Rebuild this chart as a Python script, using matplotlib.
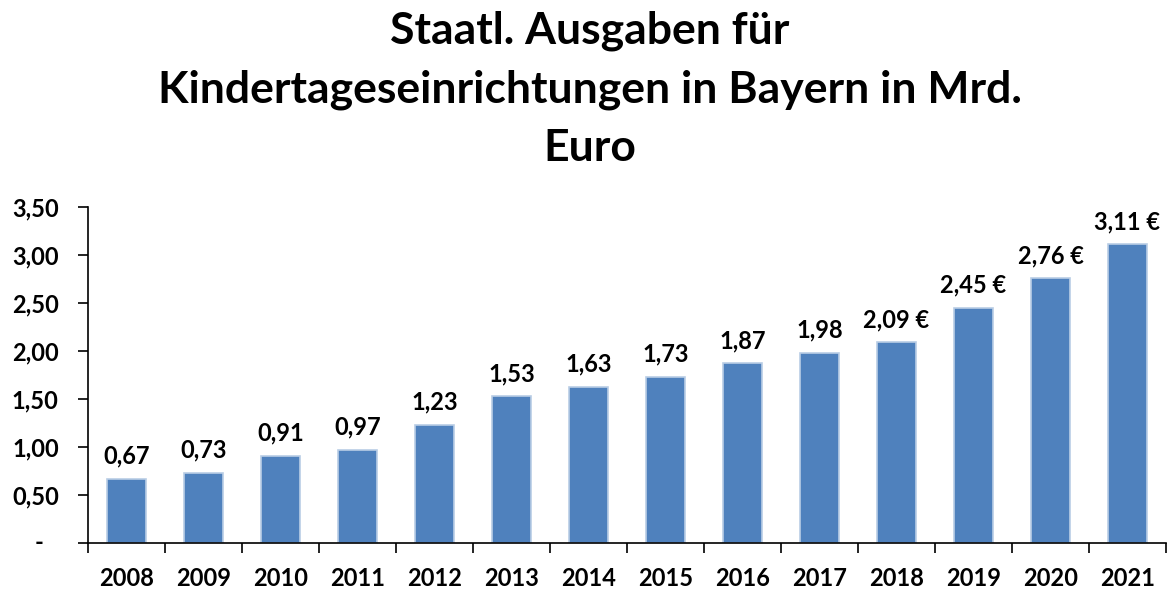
import matplotlib
matplotlib.use("Agg")
import matplotlib.pyplot as plt
import numpy as np

years = ["2008", "2009", "2010", "2011", "2012", "2013", "2014",
         "2015", "2016", "2017", "2018", "2019", "2020", "2021"]
values = [0.67, 0.73, 0.91, 0.97, 1.23, 1.53, 1.63,
          1.73, 1.87, 1.98, 2.09, 2.45, 2.76, 3.11]
labels = ["0,67", "0,73", "0,91", "0,97", "1,23", "1,53", "1,63",
          "1,73", "1,87", "1,98", "2,09 €", "2,45 €", "2,76 €", "3,11 €"]
yticks = [0, 0.5, 1.0, 1.5, 2.0, 2.5, 3.0, 3.5]
ytick_labels = ["-", "0,50", "1,00", "1,50", "2,00", "2,50", "3,00", "3,50"]
title = "Staatl. Ausgaben für\nKindertageseinrichtungen in Bayern in Mrd.\nEuro"

plt.rcParams['font.family'] = ['Lato', 'DejaVu Sans']
plt.rcParams['font.weight'] = 'bold'

fig = plt.figure(figsize=(11.73, 5.89), dpi=100)
ax = fig.add_axes([88/1173, 46/589, 1078/1173, 336/589])

x = np.arange(len(years))
ax.bar(x, values, width=0.5, color="#4F81BD", edgecolor="#B9CDE5", linewidth=1.2)

for xi, v, lab in zip(x, values, labels):
    ax.annotate(lab, (xi, v), xytext=(0, 8), textcoords="offset points",
                ha="center", va="bottom", fontsize=17, fontweight="bold")

ax.set_xlim(-0.5, len(years) - 0.5)
ax.set_ylim(0, 3.5)
ax.set_yticks(yticks)
# zero label ("-") is drawn separately, shifted left like Excel's accounting format
ax.set_yticklabels([""] + ytick_labels[1:], fontsize=17, fontweight="bold")
ax.annotate(ytick_labels[0], xy=(0, yticks[0]), xycoords=ax.get_yaxis_transform(),
            xytext=(-35, 0), textcoords="offset points", ha="center", va="center",
            fontsize=17, fontweight="bold")
ax.set_xticks(x)
ax.set_xticklabels(years, fontsize=17, fontweight="bold")
ax.set_xticks(np.arange(-0.5, len(years), 1.0), minor=True)
ax.tick_params(axis="x", which="major", length=0, pad=17)
ax.tick_params(axis="x", which="minor", length=7, width=1.2, direction="out")
ax.tick_params(axis="y", length=7, width=1.2, direction="out", pad=14)

for s in ["top", "right"]:
    ax.spines[s].set_visible(False)
for s in ["left", "bottom"]:
    ax.spines[s].set_linewidth(1.2)

fig.text(0.503, 0.982, title, ha="center", va="top", fontsize=32,
         fontweight="bold", linespacing=1.55)

fig.savefig("out.png", dpi=100)
